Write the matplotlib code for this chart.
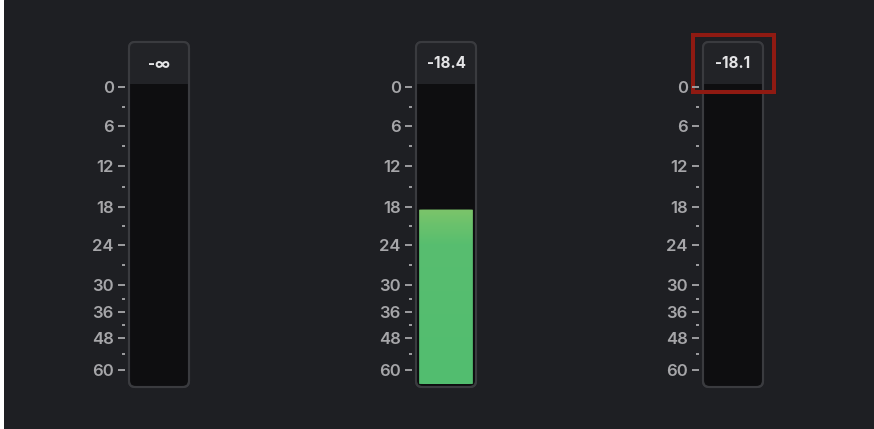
import numpy as np
import matplotlib
matplotlib.use("Agg")
import matplotlib.pyplot as plt
from matplotlib.patches import FancyBboxPatch, Rectangle
from matplotlib.colors import LinearSegmentedColormap

# ---- data ----
readouts = [-np.inf, -18.4, -18.1]          # header readouts (dB)
fill_levels = [-np.inf, -18.4, -np.inf]      # drawn meter fill (dB)
highlighted = [False, False, True]
major_db = [0, 6, 12, 18, 24, 30, 36, 48, 60]
minor_db = [3, 9, 15, 21, 27, 33, 42, 54]
major_labels = ["0", "6", "12", "18", "24", "30", "36", "48", "60"]
# meter scale: dB attenuation -> depth (px from meter top)
scale_db = [0, 6, 12, 18, 24, 30, 36, 48, 60]
scale_depth = [3, 42, 82, 123, 161, 201, 228, 254, 286]

W, H, DPI = 874, 429, 100
BG = "#1e1f23"
HEADER = "#222327"
WELL = "#0e0e10"
BORDER = "#3a3b3f"
TXT = "#a6a6a9"
FONT = ["Inter", "DejaVu Sans"]


def depth(db):
    return np.interp(db, scale_db, scale_depth)


def fmt(v):
    return "-\u221e" if np.isinf(v) else f"{v:.1f}"


fig = plt.figure(figsize=(W / DPI, H / DPI), dpi=DPI, facecolor="white")
bg = fig.add_axes([4 / W, 0, (W - 4) / W, 1])
bg.set_facecolor(BG)
bg.set_xlim(4, W)
bg.set_ylim(H, 0)
bg.axis("off")
bg.add_patch(Rectangle((4, 0), W, H, color=BG, zorder=0))

meter_left0, meter_step = 129, 287
box_w, box_top, box_bot, head_bot = 60, 42, 387, 84
inner_top, inner_bot = 84, 385

green = LinearSegmentedColormap.from_list(
    "g", [(0.0, "#7cc46a"), (0.08, "#6cc26c"), (0.2, "#58be6f"), (1.0, "#52bd70")])

for i, (ro, lv, hl) in enumerate(zip(readouts, fill_levels, highlighted)):
    x0 = meter_left0 + i * meter_step
    outer = FancyBboxPatch((x0, box_top), box_w, box_bot - box_top,
                           boxstyle="round,pad=0,rounding_size=6",
                           facecolor=WELL, edgecolor=BORDER, linewidth=1.5, zorder=2)
    bg.add_patch(outer)
    head = Rectangle((x0, box_top), box_w, head_bot - box_top, facecolor=HEADER,
                     edgecolor="none", zorder=2.5)
    head.set_clip_path(outer)
    bg.add_patch(head)
    bg.add_patch(FancyBboxPatch((x0, box_top), box_w, box_bot - box_top,
                                boxstyle="round,pad=0,rounding_size=6",
                                facecolor="none", edgecolor=BORDER, linewidth=1.5, zorder=3))
    bg.text(x0 + box_w / 2, (box_top + head_bot) / 2 + 1, fmt(ro), color="#e4e4e6",
            fontsize=11, fontweight="bold", ha="center", va="center",
            family=FONT, zorder=4)
    if hl:
        bg.add_patch(Rectangle((x0 - 10, 35), 81, 57, facecolor="none",
                               edgecolor="#8f1a12", linewidth=2.9, zorder=5))

    # meter axes
    ax = fig.add_axes([(x0 + 2) / W, (H - inner_bot) / H, (box_w - 4) / W,
                       (inner_bot - inner_top) / H])
    ax.set_facecolor("none")
    ax.set_xlim(0, 1)
    ax.set_ylim(inner_bot - inner_top, 0)
    for s in ax.spines.values():
        s.set_visible(False)
    ax.spines["left"].set_position(("outward", 4.3))
    ax.set_xticks([])
    ax.set_yticks(depth(major_db), major_labels)
    ax.set_yticks(depth(minor_db), minor=True)
    ax.tick_params(axis="y", which="major", direction="out", length=5.2, width=1.4,
                   color="#9d9da0", pad=3, labelsize=12, labelcolor=TXT)
    ax.tick_params(axis="y", which="minor", direction="out", length=2.2, width=1.4,
                   color="#9d9da0")
    for lab in ax.get_yticklabels():
        lab.set_family(FONT)
        lab.set_fontweight("semibold")

    if np.isfinite(lv):
        top = depth(-lv)
        bot = inner_bot - inner_top
        clip = FancyBboxPatch((0.02, top), 0.96, bot - top - 1,
                              boxstyle="round,pad=0,rounding_size=0.07",
                              mutation_aspect=4, facecolor="none", edgecolor="none")
        ax.add_patch(clip)
        grad = np.linspace(0, 1, 256).reshape(-1, 1)
        im = ax.imshow(grad, cmap=green, aspect="auto",
                       extent=(0.02, 0.98, bot - 1, top), origin="upper",
                       interpolation="bilinear", zorder=2)
        im.set_clip_path(clip)
        ax.set_xlim(0, 1)
        ax.set_ylim(inner_bot - inner_top, 0)

fig.savefig("out.png", dpi=DPI, facecolor=fig.get_facecolor())
